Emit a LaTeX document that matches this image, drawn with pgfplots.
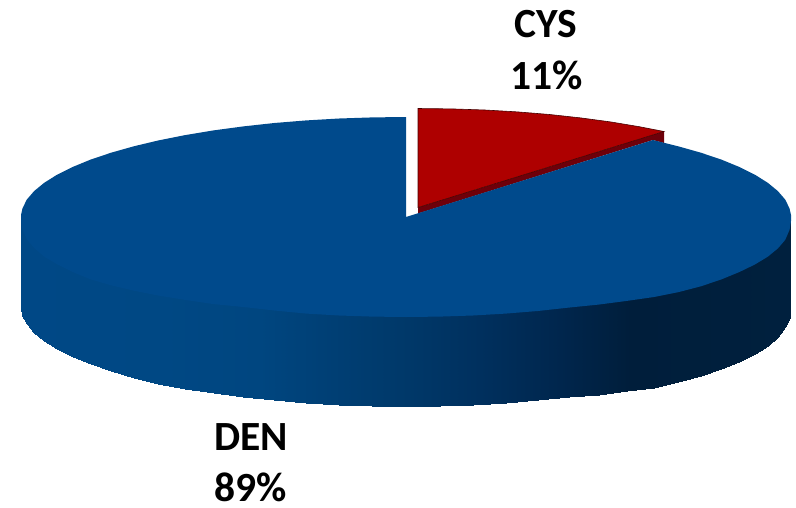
\documentclass[border=0pt]{standalone}
\usepackage{fontspec}
\setmainfont{Carlito}
\usepackage{pgfplots}
\pgfplotsset{compat=1.18}

\definecolor{topblue}{RGB}{0,74,140}
\definecolor{slicered}{RGB}{174,0,0}
\definecolor{sidered}{RGB}{110,0,10}

\begin{document}
\begin{tikzpicture}
\useasboundingbox (0,0) rectangle (796pt,507pt);
\begin{axis}[
  scale only axis,
  width=796pt,height=507pt,
  xmin=0,xmax=796,ymin=0,ymax=507,
  y dir=reverse,
  hide axis,
  clip=false,
  % positions are pixels from the left end of the wall
  colormap={sidewall}{
    rgb255(0pt)=(0,72,134);
    rgb255(139pt)=(0,72,132);
    rgb255(239pt)=(0,70,128);
    rgb255(300pt)=(0,64,118);
    rgb255(379pt)=(0,57,106);
    rgb255(459pt)=(0,48,94);
    rgb255(539pt)=(0,38,77);
    rgb255(609pt)=(0,30,59);
    rgb255(770pt)=(0,32,62)
  },
  point meta min=21,point meta max=791,
]
% dark side of the pulled-out red slice
\addplot[fill=sidered,draw=none] coordinates {
  (418,207.5) (664,131.5) (664,143) (653,140) (418,213.5)
} -- cycle;
% red slice, top face
\addplot[fill=slicered,draw=black!60!slicered,line width=0.6pt] coordinates {
  (418,207.5) (418,108.5) (451.6,108.9) (484.9,110) (517.6,111.9) (549.7,114.5)
  (580.7,117.9) (610.5,121.9) (638.8,126.6) (664,131.5)
} -- cycle;
% side wall of the blue slice; upper row runs under the top face
\addplot[surf,shader=interp,mesh/rows=2,point meta=x] coordinates {
  (21,218) (22.5,222) (26.8,228.4) (34.1,236.9) (44.2,245.2) (57.1,253.3)
  (72.6,261) (90.6,268.4) (111.1,275.3) (133.8,281.7) (158.5,287.6) (185.2,292.9)
  (213.5,297.6) (243.3,301.6) (274.3,305) (306.4,307.6) (339.1,309.5) (372.4,310.6)
  (406,311) (439.6,310.6) (472.9,309.5) (505.6,307.6) (537.7,305) (568.7,301.6)
  (598.5,297.6) (626.8,292.9) (653.5,287.6) (678.2,281.7) (700.9,275.3) (721.4,268.4)
  (739.4,261) (754.9,253.3) (767.8,245.2) (777.9,236.9) (785.2,228.4) (789.5,222)
  (791,218)

  (21,307) (22.5,315.7) (26.8,324.4) (34.1,332.9) (44.2,341.2) (57.1,349.3)
  (72.6,357) (90.6,364.4) (111.1,371.3) (133.8,377.7) (158.5,383.6) (185.2,388.9)
  (213.5,393.1) (243.3,397.1) (274.3,400) (306.4,402.6) (339.1,404.5) (372.4,405.6)
  (406,406) (439.6,405.6) (472.9,404.5) (505.6,402.6) (537.7,400) (568.7,397.1)
  (598.5,394.6) (626.8,390.9) (653.5,388) (678.2,382.2) (700.9,375.8) (721.4,368.9)
  (739.4,362) (754.9,354.3) (767.8,345.7) (777.9,336.9) (785.2,327.4) (789.5,316.7)
  (791,306)
};
% blue slice, top face
\addplot[fill=topblue,draw=none] coordinates {
  (406,217) (406,117) (372.4,117.4) (339.1,118.5) (306.4,120.4) (274.3,123)
  (243.3,126.4) (213.5,130.4) (185.2,135.1) (158.5,140.4) (133.8,146.3) (111.1,152.7)
  (90.6,159.6) (72.6,167) (57.1,174.7) (44.2,182.8) (34.1,191.1) (26.8,199.6)
  (22.5,208.3) (21,215) (21,220) (22.5,229.7) (26.8,239.4) (34.1,247.9) (44.2,256.7)
  (57.1,264.3) (72.6,272) (90.6,279.4) (111.1,285.3) (133.8,290.7) (158.5,295.6)
  (185.2,299.9) (213.5,304.1) (243.3,307) (274.3,310.5) (306.4,313.6) (339.1,315.5)
  (372.4,316.6) (406,317) (439.6,316.6) (472.9,315.5) (505.6,313.6) (537.7,311)
  (568.7,307.6) (598.5,304.6) (626.8,300.9) (653.5,297.1) (678.2,292.2) (700.9,286.3)
  (721.4,279.4) (739.4,272) (754.9,264.5) (767.8,256.7) (777.9,248.4) (785.2,239.9)
  (789.5,230) (791,221) (791,215) (789.5,208.3) (785.2,199.6) (777.9,191.1) (767.8,182.8)
  (754.9,174.7) (739.4,167) (721.4,159.6) (700.9,152.7) (678.2,146.3) (653,140)
} -- cycle;
\node[font=\fontsize{41.5}{41.5}\selectfont\bfseries,anchor=base,inner sep=0pt] at (axis cs:546,37) {CYS};
\node[font=\fontsize{41.5}{41.5}\selectfont\bfseries,anchor=base,inner sep=0pt] at (axis cs:546.5,89) {11\%};
\node[font=\fontsize{41.5}{41.5}\selectfont\bfseries,anchor=base,inner sep=0pt] at (axis cs:251,450) {DEN};
\node[font=\fontsize{41.5}{41.5}\selectfont\bfseries,anchor=base,inner sep=0pt] at (axis cs:251,501.5) {89\%};
\end{axis}
\end{tikzpicture}
\end{document}
